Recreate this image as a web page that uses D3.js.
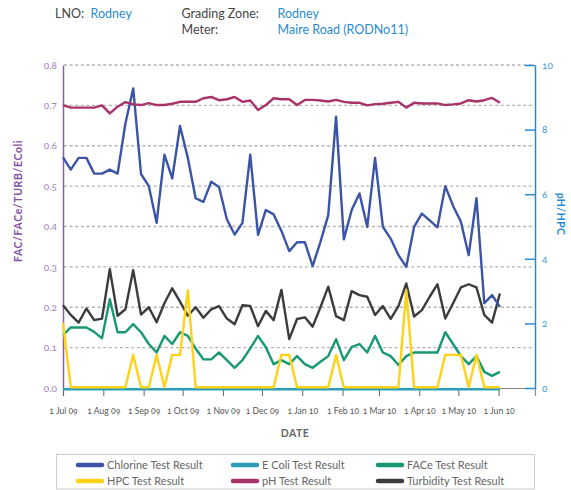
<!DOCTYPE html>
<html><head><meta charset="utf-8">
<script src="https://cdn.jsdelivr.net/npm/d3@7/dist/d3.min.js"></script>
<style>
body{margin:0;background:#fff;}
svg{font-family:Lato,"Open Sans",sans-serif;}
.num{font-variant-numeric:oldstyle-nums;font-feature-settings:"onum" 1;}
</style></head><body>
<svg id="c" width="571" height="490"></svg>
<script>
const dates = ["2009-07-01","2009-07-07","2009-07-13","2009-07-19","2009-07-25","2009-07-31",
"2009-08-06","2009-08-12","2009-08-18","2009-08-24","2009-08-30",
"2009-09-05","2009-09-11","2009-09-17","2009-09-23","2009-09-29",
"2009-10-05","2009-10-11","2009-10-17","2009-10-23","2009-10-29",
"2009-11-04","2009-11-10","2009-11-16","2009-11-22","2009-11-28",
"2009-12-04","2009-12-10","2009-12-16","2009-12-22","2009-12-28",
"2010-01-03","2010-01-09","2010-01-15","2010-01-21","2010-01-27",
"2010-02-02","2010-02-08","2010-02-14","2010-02-20","2010-02-26",
"2010-03-04","2010-03-10","2010-03-16","2010-03-22","2010-03-28",
"2010-04-03","2010-04-09","2010-04-15","2010-04-21","2010-04-27",
"2010-05-03","2010-05-09","2010-05-15","2010-05-21","2010-05-27","2010-06-02"];

const chlorine = [0.571,0.541,0.570,0.570,0.531,0.531,0.541,0.531,0.655,0.742,0.530,
0.500,0.409,0.578,0.519,0.649,0.570,0.470,0.461,0.511,0.498,
0.418,0.380,0.409,0.578,0.379,0.441,0.430,0.389,0.339,0.361,
0.361,0.302,0.362,0.428,0.672,0.368,0.441,0.482,0.399,0.570,
0.399,0.370,0.329,0.300,0.399,0.432,0.415,0.398,0.500,0.451,
0.412,0.329,0.470,0.210,0.230,0.201];
const ecoli = dates.map(() => 0);
const face = [0.131,0.150,0.150,0.150,0.139,0.123,0.220,0.138,0.138,0.158,0.138,
0.109,0.088,0.129,0.109,0.138,0.129,0.098,0.071,0.071,0.088,
0.069,0.050,0.069,0.098,0.129,0.101,0.059,0.069,0.059,0.079,
0.059,0.050,0.065,0.079,0.121,0.069,0.101,0.109,0.088,0.129,
0.088,0.079,0.057,0.079,0.088,0.088,0.088,0.088,0.138,0.109,
0.079,0.059,0.079,0.040,0.030,0.040];
const hpc = [2,0,0,0,0,0,0,0,0,1,0,
0,1,0,1,1,3,0,0,0,0,
0,0,0,0,0,0,0,1,1,0,
0,0,0,0,1,0,0,0,0,0,
0,0,0,3,0,0,0,0,1,1,
1,0,1,0,0,0];
const ph = [8.76,8.68,8.68,8.68,8.68,8.75,8.50,8.71,8.85,8.78,8.76,
8.82,8.76,8.76,8.80,8.86,8.86,8.86,8.97,9.01,8.91,
8.94,9.01,8.86,8.90,8.61,8.76,8.97,8.94,8.94,8.76,
8.92,8.92,8.90,8.87,8.92,8.86,8.83,8.83,8.75,8.79,
8.80,8.83,8.86,8.68,8.83,8.81,8.81,8.81,8.76,8.78,
8.81,8.91,8.87,8.91,8.98,8.83];
const turbidity = [0.205,0.181,0.162,0.197,0.168,0.172,0.294,0.179,0.195,0.292,0.182,
0.200,0.163,0.210,0.247,0.214,0.179,0.200,0.174,0.195,0.203,
0.172,0.158,0.205,0.203,0.153,0.191,0.168,0.243,0.121,0.171,
0.175,0.152,0.200,0.251,0.178,0.168,0.240,0.230,0.226,0.181,
0.203,0.171,0.203,0.259,0.177,0.193,0.226,0.257,0.172,0.210,
0.249,0.257,0.249,0.181,0.162,0.234];

const leftTicks = [0.0,0.1,0.2,0.3,0.4,0.5,0.6,0.7,0.8];
const rightTicks = [0,2,4,6,8,10];
const monthTicks = ["2009-07-01","2009-08-01","2009-09-01","2009-10-01","2009-11-01","2009-12-01",
"2010-01-01","2010-02-01","2010-03-01","2010-04-01","2010-05-01","2010-06-01"];

const seriesNames = ["Chlorine Test Result","E Coli Test Result","FACe Test Result","HPC Test Result","pH Test Result","Turbidity Test Result"];
const seriesColors = ["#3b54a5","#2a9cb8","#179873","#ffd21a","#a8336b","#3c3c3e"];

const parse = d3.timeParse("%Y-%m-%d");
const svg = d3.select("#c");

const x = d3.scaleTime().domain([parse("2009-07-01"), parse("2010-06-29")]).range([63,535]);
const yL = d3.scaleLinear().domain([0,0.8]).range([388,65]);
const yR = d3.scaleLinear().domain([0,10]).range([388,65]);

// header
const hdr = svg.append("g").style("font-size","12.5px");
hdr.append("text").attr("x",55).attr("y",18).attr("fill","#444").text("LNO:");
hdr.append("text").attr("x",90.5).attr("y",18).attr("fill","#2a8ad0").text("Rodney");
hdr.append("text").attr("x",181.5).attr("y",18).attr("fill","#444").text("Grading Zone:");
hdr.append("text").attr("x",277.5).attr("y",18).attr("fill","#2a8ad0").text("Rodney");
hdr.append("text").attr("x",181.5).attr("y",34).attr("fill","#444").text("Meter:");
hdr.append("text").attr("x",277.5).attr("y",34).attr("fill","#2a8ad0").text("Maire Road (RODNo11)");

// gridlines
svg.append("g").selectAll("line").data(leftTicks.filter(d=>d>0)).join("line")
  .attr("x1",64).attr("x2",534).attr("y1",d=>yL(d)).attr("y2",d=>yL(d))
  .attr("stroke","#b3b3b3").attr("stroke-width",1.3).attr("stroke-dasharray","3,2.6");

// x axis
const xa = svg.append("g").attr("transform","translate(0,388)")
  .call(d3.axisBottom(x).tickValues(monthTicks.map(parse)).tickSize(8).tickPadding(12)
    .tickFormat(d3.timeFormat("1 %b %y")));
xa.select(".domain").attr("stroke","#888").attr("stroke-width",1.2);
xa.selectAll(".tick line").attr("stroke","#666").attr("stroke-width",1);
xa.selectAll(".tick text").attr("class","num").attr("fill","#555").style("font-size","8.6px").style("font-family","Lato");
svg.append("text").attr("x",295).attr("y",437).attr("text-anchor","middle")
  .attr("fill","#666").style("font-size","10.5px").style("font-weight","bold").style("letter-spacing","0.5px").text("DATE");

// left axis
const la = svg.append("g").attr("transform","translate(63,0)")
  .call(d3.axisLeft(yL).tickValues(leftTicks).tickSize(0).tickPadding(6).tickFormat(d3.format(".1f")));
la.select(".domain").attr("stroke","#8b5ca8").attr("stroke-width",1.5);
la.selectAll(".tick text").attr("class","num").attr("fill","#9d80c2").style("font-size","10px").style("font-family","Lato");
svg.append("text").attr("transform","translate(22,201) rotate(-90)").attr("text-anchor","middle")
  .attr("fill","#7f52a1").style("font-size","10.5px").style("font-weight","bold").style("letter-spacing","0.6px")
  .text("FAC/FACe/TURB/EColi");

// right axis
const ra = svg.append("g").attr("transform","translate(535,0)")
  .call(d3.axisRight(yR).tickValues(rightTicks).tickSizeInner(-10).tickSizeOuter(0).tickPadding(8));
ra.select(".domain").attr("stroke","#2a8ad0").attr("stroke-width",1.5);
ra.selectAll(".tick line").attr("stroke","#2a8ad0").attr("stroke-width",1.5);
ra.selectAll(".tick text").attr("class","num").attr("fill","#3a95d5").style("font-size","10px").style("font-family","Lato").attr("x",7);
svg.append("text").attr("transform","translate(557,214) rotate(90)").attr("text-anchor","middle")
  .attr("fill","#2a8ad0").style("font-size","10.5px").style("font-weight","bold").style("letter-spacing","0.4px")
  .text("pH/HPC");

// lines
const parsed = dates.map(parse);
function drawLine(vals, yScale, color, dy){
  const line = d3.line().x((d,i)=>x(parsed[i])).y(d=>yScale(d));
  svg.append("path").datum(vals).attr("d",line).attr("fill","none")
    .attr("stroke",color).attr("stroke-width",2.4).attr("stroke-linejoin","round")
    .attr("transform", dy ? `translate(0,${dy})` : null);
}
drawLine(ecoli, yL, seriesColors[1], 1.2);
drawLine(face, yL, seriesColors[2]);
drawLine(turbidity, yL, seriesColors[5]);
drawLine(chlorine, yL, seriesColors[0]);
drawLine(ph, yR, seriesColors[4]);
drawLine(hpc, yR, seriesColors[3], -0.8);

// legend
const lg = svg.append("g");
lg.append("rect").attr("x",56.5).attr("y",454.5).attr("width",478).attr("height",34.5)
  .attr("fill","#fff").attr("stroke","#ccc").attr("stroke-width",1);
const colX = [78,233,378];
const rowY = [465,481];
seriesNames.forEach((n,i)=>{
  const cx = colX[i%3], cy = rowY[Math.floor(i/3)];
  lg.append("line").attr("x1",cx).attr("x2",cx+24).attr("y1",cy).attr("y2",cy)
    .attr("stroke",seriesColors[i]).attr("stroke-width",4.5).attr("stroke-linecap","round");
  lg.append("text").attr("x",cx+29).attr("y",cy+4).attr("fill","#666").style("font-size","11px").text(n);
});
</script>
</body></html>
